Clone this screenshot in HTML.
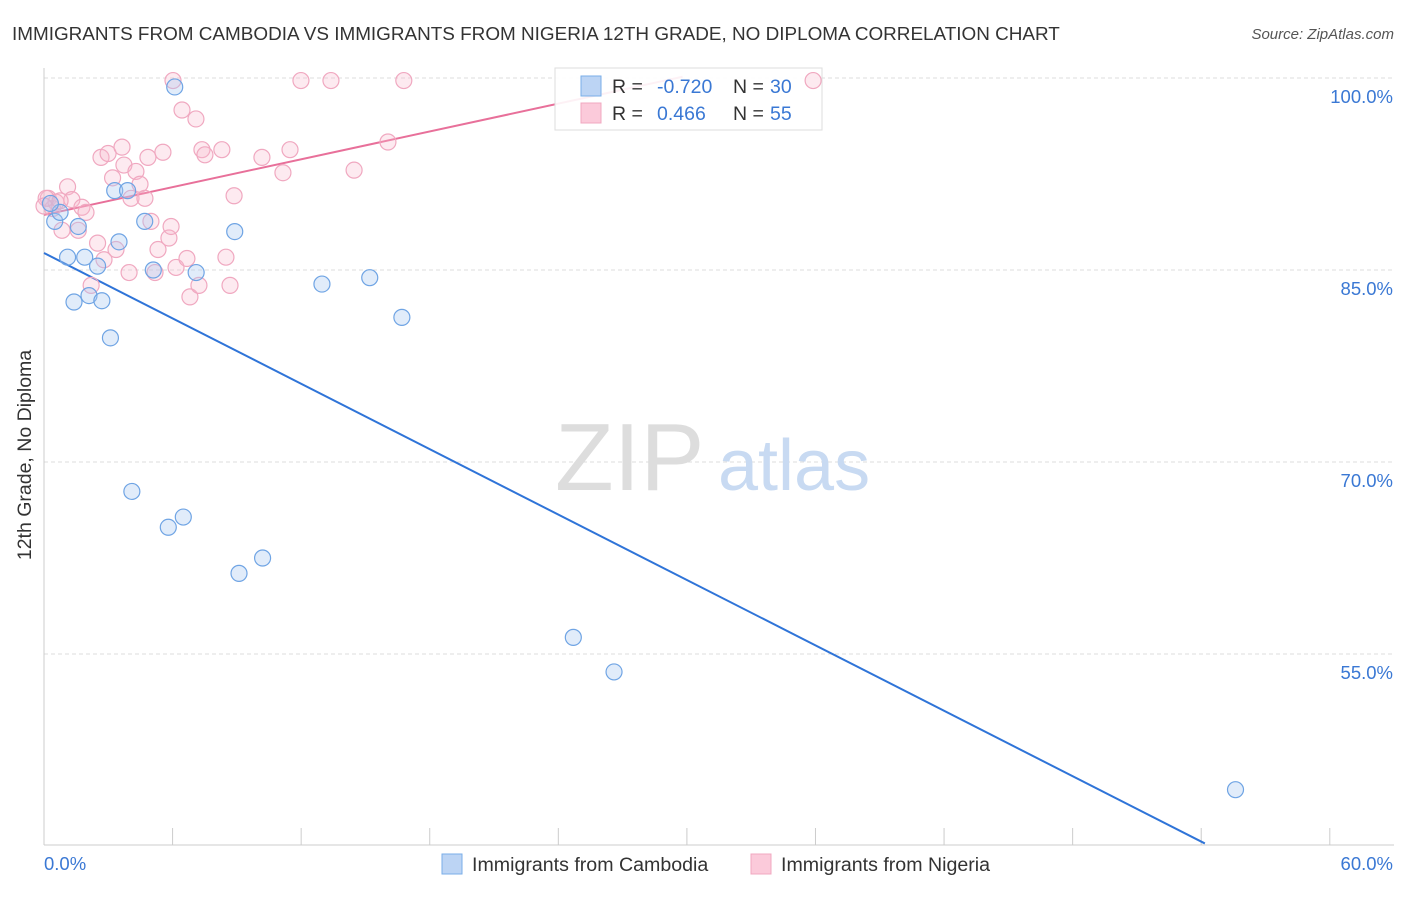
<!DOCTYPE html>
<html><head><meta charset="utf-8"><style>
body{margin:0;background:#fff;font-family:"Liberation Sans",sans-serif;}
svg text{font-family:"Liberation Sans",sans-serif;}
</style></head><body>
<svg id="chart" width="1406" height="892" xmlns="http://www.w3.org/2000/svg">
<text x="12" y="40" font-size="18.9" fill="#333">IMMIGRANTS FROM CAMBODIA VS IMMIGRANTS FROM NIGERIA 12TH GRADE, NO DIPLOMA CORRELATION CHART</text>
<text x="1394" y="39" font-size="15" fill="#555" text-anchor="end" font-style="italic">Source: ZipAtlas.com</text>
<text x="31" y="455" font-size="19.5" fill="#333" text-anchor="middle" transform="rotate(-90 31 455)">12th Grade, No Diploma</text>
<g id="grid"></g>
<g><text x="555" y="490" font-size="96" fill="#ddd" font-family="Liberation Serif">ZIP</text><text x="718" y="490" font-size="72" fill="#c8daf2">atlas</text></g>
<g id="lines"></g>
<g>
<rect x="555" y="68" width="267" height="62" fill="#fff" fill-opacity="0.9" stroke="#ddd"/>
<rect x="581" y="76" width="20" height="20" fill="#bcd4f4" stroke="#7aaee8"/>
<text x="612" y="93" font-size="19.5" fill="#333">R = </text><text x="657" y="93" font-size="19.5" fill="#3a78d4">-0.720</text>
<text x="733" y="93" font-size="19.5" fill="#333">N = </text><text x="770" y="93" font-size="19.5" fill="#3a78d4">30</text>
<rect x="581" y="103" width="20" height="20" fill="#fbcada" stroke="#f0a8c0"/>
<text x="612" y="120" font-size="19.5" fill="#333">R = </text><text x="657" y="120" font-size="19.5" fill="#3a78d4">0.466</text>
<text x="733" y="120" font-size="19.5" fill="#333">N = </text><text x="770" y="120" font-size="19.5" fill="#3a78d4">55</text>
</g>
<g id="points"></g>
<g>
<rect x="442" y="854" width="20" height="20" fill="#bcd4f4" stroke="#7aaee8"/>
<text x="472" y="871" font-size="19.6" fill="#333">Immigrants from Cambodia</text>
<rect x="751" y="854" width="20" height="20" fill="#fbcada" stroke="#f0a8c0"/>
<text x="781" y="871" font-size="19.6" fill="#333">Immigrants from Nigeria</text>
</g>
</svg>
<script>
const yTicks=[100,85,70,55];
const yTickLabels=["100.0%","85.0%","70.0%","55.0%"];
const xTickLabels=["0.0%","60.0%"];
const cambodiaX=[0.5,0.75,1.1,1.4,1.9,2.1,2.5,2.7,1.6,3.1,3.3,3.5,3.9,4.1,4.7,5.1,5.8,6.1,6.5,7.1,8.9,9.1,10.2,12.97,15.2,16.7,24.7,26.6,55.6,0.3];
const cambodiaY=[88.8,89.5,86.0,82.5,86.0,83.0,85.3,82.6,88.4,79.7,91.2,87.2,91.2,67.7,88.8,85.0,64.9,99.3,65.7,84.8,88.0,61.3,62.5,83.9,84.4,81.3,56.3,53.6,44.4,90.2];
const nigeriaX=[0.2,0.4,0.56,0.84,1.1,1.3,1.6,1.77,1.96,2.2,2.5,2.66,2.8,2.99,3.2,3.36,3.64,3.73,3.97,4.06,4.29,4.48,4.71,4.85,4.99,5.18,5.32,5.55,5.83,5.93,6.16,6.02,6.44,6.67,6.81,7.09,7.23,7.37,7.51,8.3,8.49,8.68,8.87,10.17,11.15,11.48,11.99,13.39,14.47,16.05,16.79,35.89,0.1,0,0.75];
const nigeriaY=[90.6,89.8,90.3,88.1,91.5,90.5,88.1,89.9,89.5,83.8,87.1,93.8,85.8,94.1,92.2,86.6,94.6,93.2,84.8,90.6,92.7,91.7,90.6,93.8,88.8,84.8,86.6,94.2,87.5,88.4,85.2,99.8,97.5,85.9,82.9,96.8,83.8,94.4,94.0,94.4,86.0,83.8,90.8,93.8,92.6,94.4,99.8,99.8,92.8,95.0,99.8,99.8,90.6,90.0,90.4];
const cambodiaTrend=[[0,86.33],[54.17,40.2]];
const nigeriaTrend=[[0,89.3],[29.8,100.1]];
const NS="http://www.w3.org/2000/svg";
const X=v=>44+v*21.43, Y=v=>78+(100-v)*12.8;
function mk(tag,attrs,parent){const e=document.createElementNS(NS,tag);for(const k in attrs)e.setAttribute(k,attrs[k]);parent.appendChild(e);return e;}
const grid=document.getElementById('grid');
yTicks.forEach((t,i)=>{
 const l=mk('line',{x1:44,x2:1394,y1:Y(t),y2:Y(t),stroke:'#ddd','stroke-dasharray':'4 3'},grid);
 
 
 const tx=mk('text',{x:1393,y:Y(t)+25,'font-size':18.5,fill:'#3a78d4','text-anchor':'end'},grid);
 tx.textContent=yTickLabels[i];
 
 
});
const ax=mk('line',{x1:44,x2:44,y1:68,y2:845,stroke:'#ccc'},grid);


const bx=mk('line',{x1:44,x2:1394,y1:845,y2:845,stroke:'#ccc'},grid);


for(let i=0;i<=10;i++){const t=mk('line',{x1:X(i*6),x2:X(i*6),y1:828,y2:845,stroke:'#ccc'},grid);
 
 }
const xl0=mk('text',{x:44,y:870,'font-size':18.5,fill:'#3a78d4'},grid);xl0.textContent=xTickLabels[0];


const xl1=mk('text',{x:1393,y:870,'font-size':18.5,fill:'#3a78d4','text-anchor':'end'},grid);xl1.textContent=xTickLabels[1];


const pts=document.getElementById('points');
nigeriaX.forEach((v,i)=>{const c=mk('circle',{cx:X(v),cy:Y(nigeriaY[i]),r:8,fill:'#f8b8cc','fill-opacity':0.3,stroke:'#f0a8c0','stroke-width':1.2},pts);
 
 });
cambodiaX.forEach((v,i)=>{const c=mk('circle',{cx:X(v),cy:Y(cambodiaY[i]),r:8,fill:'#a8c8f0','fill-opacity':0.35,stroke:'#6fa4e4','stroke-width':1.2},pts);
 
 });
const lines=document.getElementById('lines');
const l1=mk('line',{x1:X(cambodiaTrend[0][0]),y1:Y(cambodiaTrend[0][1]),x2:X(cambodiaTrend[1][0]),y2:Y(cambodiaTrend[1][1]),stroke:'#2f74d8','stroke-width':2},lines);


const l2=mk('line',{x1:X(nigeriaTrend[0][0]),y1:Y(nigeriaTrend[0][1]),x2:X(nigeriaTrend[1][0]),y2:Y(nigeriaTrend[1][1]),stroke:'#e8709a','stroke-width':2},lines);


</script>
</body></html>
